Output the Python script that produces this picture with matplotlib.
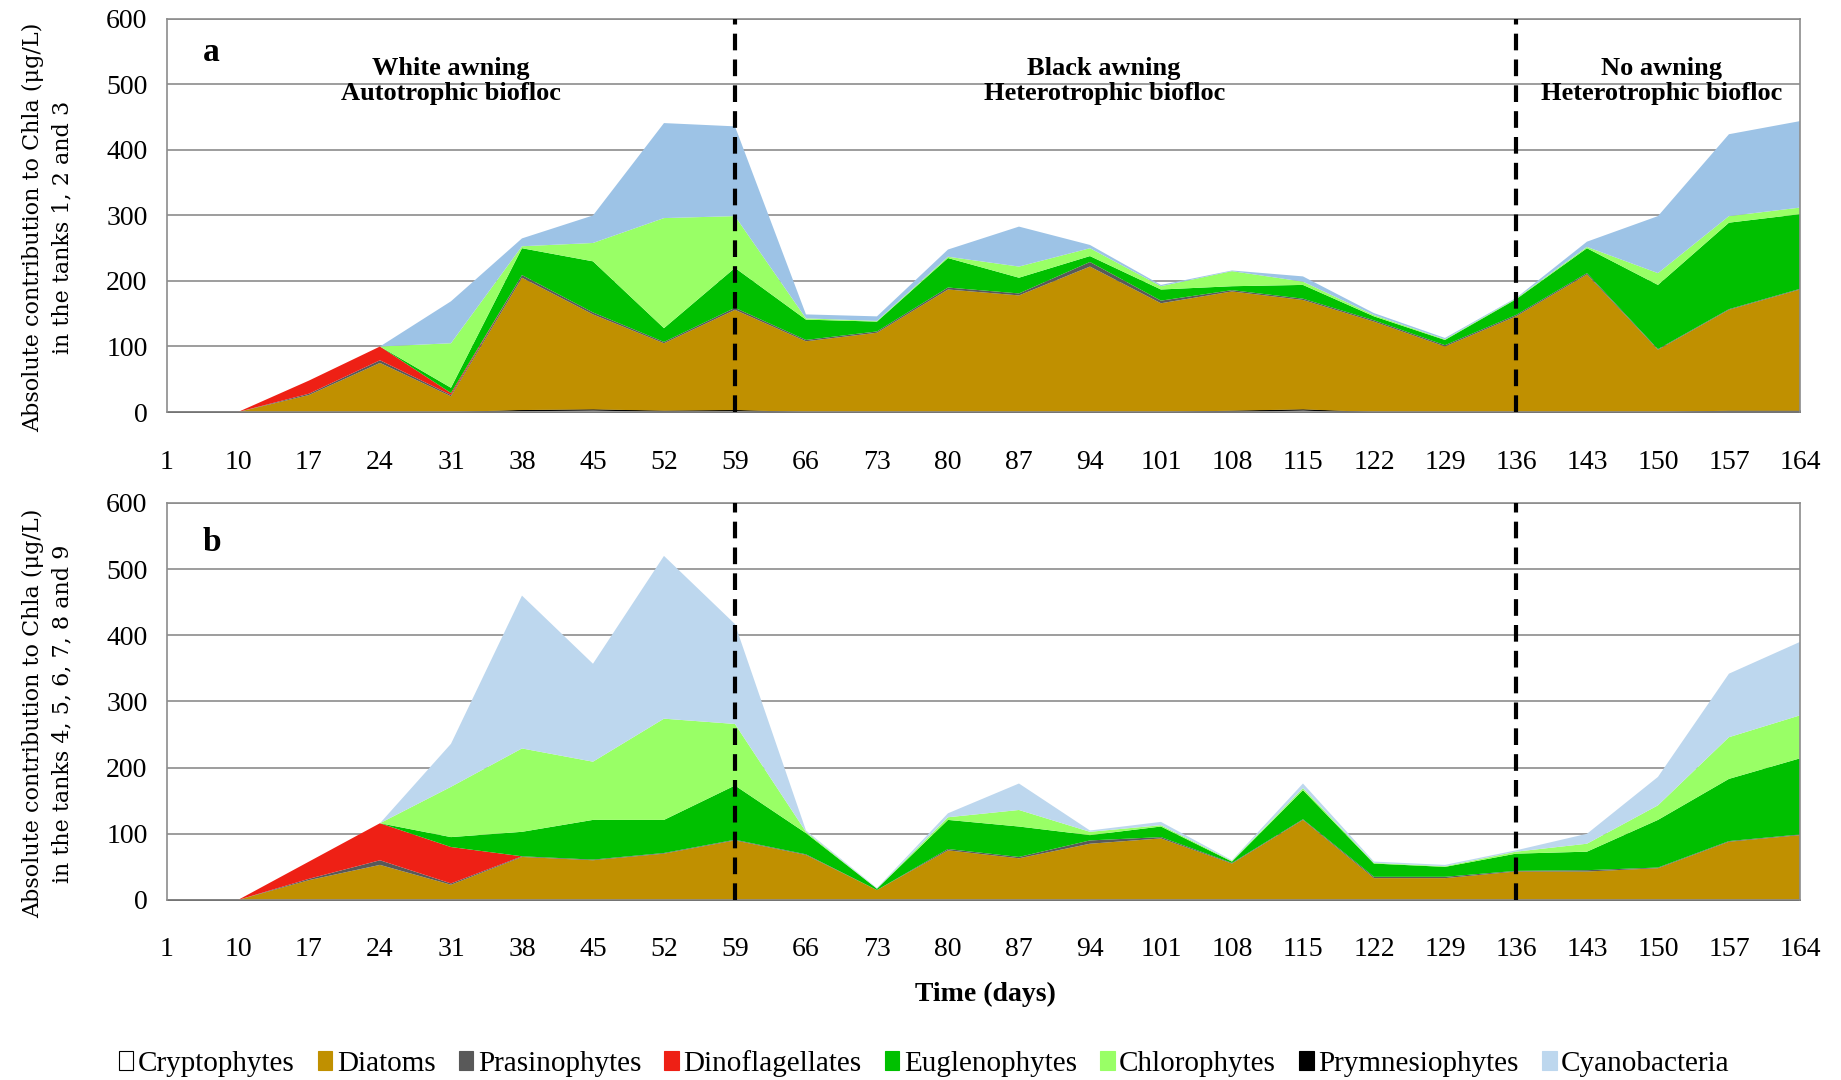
import numpy as np
import matplotlib
matplotlib.use("Agg")
import matplotlib.pyplot as plt
from matplotlib.patches import Patch

days = [1, 10, 17, 24, 31, 38, 45, 52, 59, 66, 73, 80, 87, 94, 101, 108, 115, 122, 129, 136, 143, 150, 157, 164]
groups = ["Cryptophytes", "Diatoms", "Prasinophytes", "Dinoflagellates",
          "Euglenophytes", "Chlorophytes", "Prymnesiophytes", "Cyanobacteria"]

# panel a: tanks 1, 2 and 3
crypto_a = [0, 0, 0, 0, 0, 3, 4, 2, 3, 0, 0, 0, 0, 0, 0, 2, 4, 0, 0, 0, 0, 0, 2, 2]
diatoms_a = [0, 0, 26, 75, 24, 202, 145, 103, 153, 108, 121, 187, 178, 222, 166, 182, 167, 138, 100, 146, 210, 95, 154, 185]
prasino_a = [0, 0, 2, 4, 2, 4, 3, 2, 3, 2, 2, 3, 3, 7, 4, 2, 2, 2, 2, 2, 2, 1, 1, 1]
dino_a = [0, 0, 20, 21, 3, 0, 0, 0, 0, 0, 0, 0, 0, 0, 0, 0, 0, 0, 0, 0, 0, 0, 0, 0]
eugleno_a = [0, 0, 0, 0, 8, 41, 78, 21, 61, 31, 15, 45, 24, 9, 17, 6, 21, 6, 8, 24, 38, 98, 132, 114]
chloro_a = [0, 0, 0, 0, 68, 3, 28, 168, 79, 2, 1, 2, 17, 12, 5, 23, 5, 2, 1, 1, 2, 18, 10, 10]
prymnesio_a = [0] * 24
cyano_a = [0, 0, 0, 0, 64, 12, 42, 145, 137, 6, 7, 11, 61, 5, 2, 1, 8, 3, 2, 1, 8, 87, 125, 132]

# panel b: tanks 4 to 9
crypto_b = [0] * 24
diatoms_b = [0, 0, 30, 53, 23, 65, 60, 70, 90, 68, 15, 75, 63, 85, 93, 55, 121, 33, 33, 43, 43, 48, 88, 98]
prasino_b = [0, 0, 2, 7, 2, 1, 1, 1, 1, 1, 0, 2, 2, 5, 2, 1, 1, 2, 2, 1, 2, 1, 1, 1]
dino_b = [0, 0, 26, 56, 55, 0, 0, 0, 0, 0, 0, 0, 0, 0, 0, 0, 0, 0, 0, 0, 0, 0, 0, 0]
eugleno_b = [0, 0, 0, 0, 15, 37, 60, 50, 82, 32, 2, 44, 46, 8, 16, 2, 44, 20, 15, 26, 28, 72, 94, 115]
chloro_b = [0, 0, 0, 0, 76, 126, 88, 153, 93, 2, 0, 4, 25, 5, 2, 1, 3, 1, 1, 3, 12, 22, 63, 65]
prymnesio_b = [0] * 24
cyano_b = [0, 0, 0, 0, 65, 231, 148, 246, 151, 2, 1, 6, 40, 2, 5, 1, 7, 2, 2, 2, 15, 43, 96, 111]

colors = ["white", "#C09000", "#595959", "#EE2015", "#00C000", "#99FF66", "black", "#BDD7EE"]
cyano_a_color = "#9DC3E6"

serif = ["Liberation Serif", "DejaVu Serif"]
plt.rcParams["font.family"] = serif

fig = plt.figure(figsize=(18.41, 10.8), dpi=100)
ax_a = fig.add_axes([0.0907, 0.6185, 0.887, 0.364])
ax_b = fig.add_axes([0.0907, 0.1667, 0.887, 0.3676])

x = np.arange(len(days))


def draw_panel(ax, series, cols, letter, ylabel, letter_y):
    polys = ax.stackplot(x, *series, colors=cols, linewidth=0)
    polys[0].set_edgecolor("black")
    polys[0].set_linewidth(1.0)
    ax.set_xlim(0, len(days) - 1)
    ax.set_ylim(0, 600)
    ax.set_yticks(range(0, 601, 100))
    ax.set_xticks(x)
    ax.set_xticklabels([str(d) for d in days])
    ax.yaxis.grid(True, color="#8c8c8c", linewidth=1.2)
    ax.set_axisbelow(True)
    for s in ax.spines.values():
        s.set_color("#8c8c8c")
        s.set_linewidth(1.2)
    ax.tick_params(length=0, labelsize=20)
    ax.tick_params(axis="x", pad=27)
    ax.tick_params(axis="y", pad=14)
    for d in (59, 136):
        ax.axvline(days.index(d), color="black", linewidth=3, dashes=(4, 2.2), zorder=5)
    ax.text(0.022, letter_y, letter, transform=ax.transAxes, fontsize=24, fontweight="bold",
            va="center", ha="left", zorder=6,
            bbox=dict(facecolor="white", edgecolor="none", pad=2))
    ax.set_ylabel(ylabel, family=["DejaVu Serif"], fontsize=16, linespacing=1.45)
    ax.yaxis.set_label_coords(-0.057, 0.47)


draw_panel(ax_a, [crypto_a, diatoms_a, prasino_a, dino_a, eugleno_a, chloro_a, prymnesio_a, cyano_a],
           colors[:7] + [cyano_a_color], "a",
           "Absolute contribution to Chla (\u03bcg/L)\nin the tanks 1, 2 and 3", 0.915)
draw_panel(ax_b, [crypto_b, diatoms_b, prasino_b, dino_b, eugleno_b, chloro_b, prymnesio_b, cyano_b],
           colors, "b",
           "Absolute contribution to Chla (\u03bcg/L)\nin the tanks 4, 5, 6, 7, 8 and 9", 0.9)

periods = [(4.0, "White awning\nAutotrophic biofloc"),
           (13.2, "Black awning\nHeterotrophic biofloc"),
           (21.05, "No awning\nHeterotrophic biofloc")]
for xp, label in periods:
    ax_a.text(xp, 505, label, ha="center", va="center", fontsize=19, fontweight="bold",
              linespacing=1.15, zorder=6)

fig.text(0.5355, 0.079, "Time (days)", ha="center", va="center", fontsize=20, fontweight="bold")

handles = [Patch(facecolor=c, edgecolor="black" if i == 0 else c, linewidth=0.8)
           for i, c in enumerate(colors)]
fig.legend(handles, groups, loc="center", bbox_to_anchor=(0.502, 0.0155), ncol=8,
           frameon=False, fontsize=21, handlelength=0.5, handleheight=0.6,
           handletextpad=0.15, columnspacing=0.8, borderpad=0)

fig.savefig("out.png", dpi=100)
